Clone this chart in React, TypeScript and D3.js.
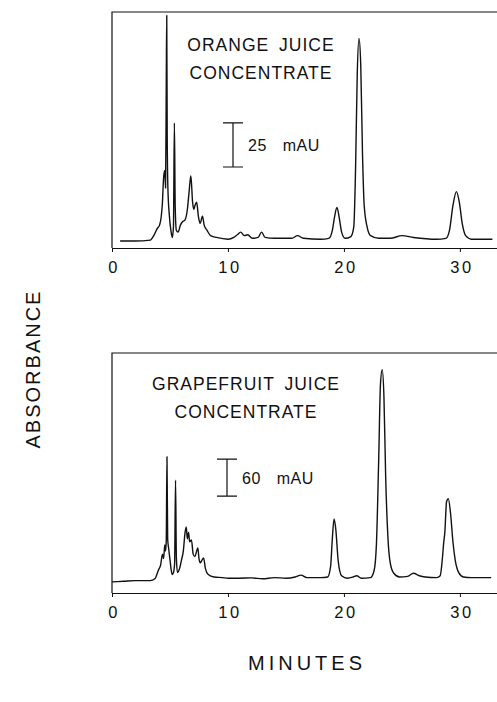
import React, { useEffect, useRef } from "react";
import * as d3 from "d3";

// retention time (min), absorbance (mAU)
const orangeTrace: [number, number][] = [
  [0.7, 0], [2, 0], [3.3, 0.5], [3.6, 3], [3.9, 7], [4.1, 9], [4.25, 14], [4.35, 22],
  [4.45, 36], [4.55, 40], [4.62, 30], [4.68, 90], [4.72, 128], [4.76, 60], [4.82, 30],
  [4.95, 14], [5.1, 5], [5.2, 2], [5.3, 8], [5.38, 67], [5.45, 20], [5.55, 6], [5.7, 5],
  [5.9, 9], [6.1, 11], [6.3, 12], [6.5, 18], [6.65, 28], [6.8, 37], [6.95, 22], [7.05, 18],
  [7.15, 20], [7.3, 22], [7.45, 14], [7.6, 10], [7.8, 14], [7.95, 9], [8.2, 6], [8.5, 3],
  [9, 2], [10, 1], [10.5, 2], [10.8, 3.5], [11.1, 5], [11.4, 3], [11.7, 3.5], [12.1, 1.5],
  [12.6, 2], [12.9, 5], [13.2, 2], [14, 1.5], [15.5, 1.5], [16, 3], [16.5, 1.5], [18, 1],
  [18.7, 1.5], [19.0, 6], [19.2, 14], [19.4, 19], [19.6, 13], [19.8, 5], [20.1, 1.5],
  [20.6, 2.5], [20.85, 8], [21.0, 40], [21.15, 95], [21.3, 115], [21.45, 100], [21.6, 50],
  [21.75, 20], [22.0, 8], [22.3, 3], [23, 1.5], [24, 1.5], [25, 3], [26, 2], [28, 1],
  [28.8, 1.5], [29.1, 6], [29.4, 20], [29.7, 28], [29.95, 22], [30.2, 10], [30.5, 3],
  [31, 1], [32.8, 1],
];

const grapefruitTrace: [number, number][] = [
  [0, 0], [1, 1], [2, 2], [3.3, 2], [3.7, 5], [4.0, 19], [4.2, 28], [4.35, 45], [4.45, 38],
  [4.55, 60], [4.62, 50], [4.68, 68], [4.74, 203], [4.8, 70], [4.88, 55], [5.0, 36],
  [5.1, 20], [5.2, 12], [5.3, 15], [5.4, 30], [5.48, 165], [5.55, 40], [5.65, 15],
  [5.8, 20], [6.0, 36], [6.15, 50], [6.3, 80], [6.4, 89], [6.5, 70], [6.6, 80], [6.7, 65],
  [6.85, 68], [7.0, 45], [7.15, 41], [7.3, 50], [7.4, 55], [7.5, 38], [7.6, 31], [7.75, 35],
  [7.9, 39], [8.05, 22], [8.3, 12], [8.8, 8], [9.5, 7], [10, 6], [11, 6], [12, 6.5],
  [13, 5], [14, 7], [15, 6], [15.8, 8], [16.3, 11], [16.8, 7], [18, 7], [18.6, 8],
  [18.85, 25], [19.0, 70], [19.15, 102], [19.3, 85], [19.5, 35], [19.8, 10], [20.3, 6],
  [20.8, 8], [21.1, 10], [21.5, 6], [22.3, 7], [22.6, 18], [22.8, 60], [23.0, 200],
  [23.15, 320], [23.3, 344], [23.45, 300], [23.6, 170], [23.8, 70], [24.0, 30], [24.3, 14],
  [24.8, 8], [25.5, 9], [26.0, 14], [26.5, 10], [27, 8], [28, 7], [28.3, 10], [28.5, 40],
  [28.6, 63], [28.7, 80], [28.85, 130], [29.0, 135], [29.2, 110], [29.4, 65], [29.6, 35],
  [29.9, 15], [30.3, 8], [31, 7], [32.7, 7],
];

const minuteTicks = [0, 10, 20, 30];
const orangeTitle = ["ORANGE JUICE", "CONCENTRATE"];
const grapefruitTitle = ["GRAPEFRUIT JUICE", "CONCENTRATE"];
const orangeScaleBar = 25;
const grapefruitScaleBar = 60;

const FONT = "'Liberation Sans', Arial, sans-serif";

export default function App() {
  const ref = useRef<SVGSVGElement>(null);

  useEffect(() => {
    const svg = d3.select(ref.current);
    svg.selectAll("*").remove();

    const x = d3.scaleLinear().domain([0, 33.2]).range([112, 497]);

    const panels = [
      {
        data: orangeTrace, title: orangeTitle, bar: orangeScaleBar,
        y: d3.scaleLinear().domain([-4, 130]).range([248, 12]),
        titleX: 261, titleY: 51, barX: 233, barLow: 42,
      },
      {
        data: grapefruitTrace, title: grapefruitTitle, bar: grapefruitScaleBar,
        y: d3.scaleLinear().domain([-18, 371]).range([593, 353]),
        titleX: 246, titleY: 390, barX: 227, barLow: 139,
      },
    ];

    panels.forEach((p) => {
      const g = svg.append("g");
      const [y0, y1] = p.y.range();

      // frame: left and top edges
      g.append("path")
        .attr("d", `M${x(0)},${y0}V${y1}H497`)
        .attr("fill", "none")
        .attr("stroke", "#111")
        .attr("stroke-width", 1.2);

      const axis = g.append("g")
        .attr("transform", `translate(0,${y0})`)
        .call(d3.axisBottom(x).tickValues(minuteTicks).tickSize(4).tickSizeOuter(0).tickFormat(d3.format("d")));
      axis.select(".domain").attr("stroke", "#111").attr("stroke-width", 1.2);
      axis.selectAll(".tick line").attr("stroke", "#111");
      axis.selectAll(".tick text")
        .attr("y", 13)
        .attr("dx", "1.5px")
        .attr("font-family", FONT)
        .attr("font-size", 16.5)
        .attr("letter-spacing", "2.5px")
        .attr("fill", "#111");

      const line = d3.line<[number, number]>()
        .x((d) => x(d[0]))
        .y((d) => p.y(d[1]))
        .curve(d3.curveMonotoneX);

      g.append("path")
        .datum(p.data)
        .attr("d", line)
        .attr("fill", "none")
        .attr("stroke", "#111")
        .attr("stroke-width", 1.4)
        .attr("stroke-linejoin", "round");

      g.selectAll(".title")
        .data(p.title)
        .join("text")
        .attr("class", "title")
        .attr("x", p.titleX)
        .attr("y", (d, i) => p.titleY + i * 28)
        .attr("text-anchor", "middle")
        .attr("font-family", FONT)
        .attr("font-size", 17.5)
        .attr("letter-spacing", "1px")
        .attr("word-spacing", "4px")
        .attr("fill", "#111")
        .text((d) => d);

      // scale bar
      const bTop = p.y(p.barLow + p.bar);
      const bBot = p.y(p.barLow);
      g.append("path")
        .attr("d", `M${p.barX - 10},${bTop}H${p.barX + 10}M${p.barX},${bTop}V${bBot}M${p.barX - 10},${bBot}H${p.barX + 10}`)
        .attr("fill", "none")
        .attr("stroke", "#111")
        .attr("stroke-width", 1.2);
      g.append("text")
        .attr("x", p.barX + 15)
        .attr("y", (bTop + bBot) / 2 + 6)
        .attr("font-family", FONT)
        .attr("font-size", 16)
        .attr("letter-spacing", "0.5px")
        .attr("word-spacing", "11px")
        .attr("fill", "#111")
        .text(`${p.bar} mAU`);
    });

    svg.append("text")
      .attr("transform", "translate(40,370) rotate(-90)")
      .attr("text-anchor", "middle")
      .attr("font-family", FONT)
      .attr("font-size", 20)
      .attr("letter-spacing", "2px")
      .attr("dx", 1)
      .attr("fill", "#111")
      .text("ABSORBANCE");

    svg.append("text")
      .attr("x", 307)
      .attr("y", 670)
      .attr("text-anchor", "middle")
      .attr("font-family", FONT)
      .attr("font-size", 20)
      .attr("letter-spacing", "4px")
      .attr("fill", "#111")
      .text("MINUTES");
  }, []);

  return (
    <svg
      ref={ref}
      width={497}
      height={702}
      style={{ position: "absolute", left: 0, top: 0, background: "#fff" }}
    />
  );
}
